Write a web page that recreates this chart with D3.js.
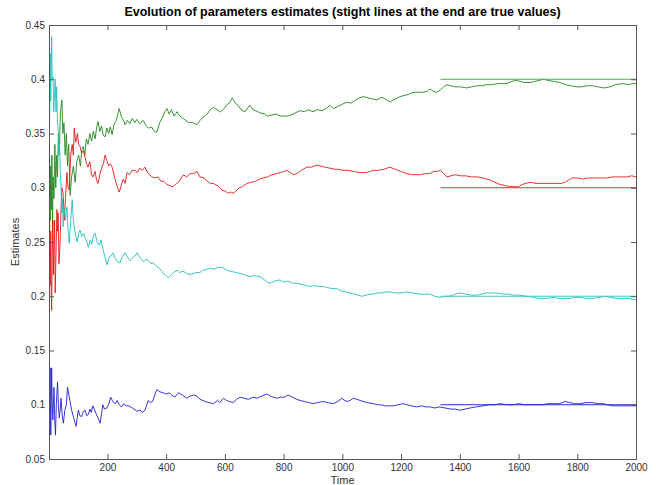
<!DOCTYPE html>
<html>
<head>
<meta charset="utf-8">
<script src="https://cdn.jsdelivr.net/npm/d3@7"></script>
<style>
  body { margin: 0; background: #fff; }
  svg { font-family: "Liberation Sans", Arial, sans-serif; }
</style>
</head>
<body>
<div id="chart"></div>
<script>
// Estimates: [time, value]
const green = [[1,0.30],[3,0.33],[5,0.27],[7,0.32],[9,0.28],[11,0.33],[13,0.26],[15,0.31],[18,0.29],[21,0.34],[24,0.30],[27,0.33],[30,0.31],[33,0.35],[36,0.33],[40,0.37],[45,0.381],[48,0.35],[52,0.36],[56,0.33],[60,0.35],[64,0.32],[68,0.34],[73,0.293],[78,0.31],[84,0.32],[90,0.305],[96,0.325],[102,0.33],[108,0.32],[113,0.335],[118,0.338],[123,0.33],[128,0.345],[134,0.34],[140,0.35],[146,0.343],[152,0.352],[158,0.345],[163,0.355],[168,0.361],[174,0.352],[180,0.357],[186,0.348],[192,0.347],[198,0.355],[204,0.35],[210,0.356],[216,0.349],[222,0.358],[230,0.362],[240,0.373],[248,0.365],[255,0.362],[260,0.358],[268,0.362],[276,0.359],[285,0.364],[293,0.36],[300,0.363],[310,0.359],[322,0.362],[332,0.357],[340,0.355],[350,0.356],[360,0.352],[368,0.351],[378,0.36],[388,0.365],[395,0.37],[403,0.373],[410,0.368],[418,0.372],[427,0.366],[437,0.37],[447,0.366],[457,0.364],[467,0.362],[477,0.36],[490,0.36],[505,0.358],[515,0.362],[526,0.365],[540,0.368],[550,0.372],[560,0.374],[573,0.372],[585,0.37],[594,0.372],[605,0.376],[618,0.379],[625,0.383],[635,0.378],[645,0.376],[655,0.372],[669,0.37],[678,0.374],[686,0.376],[695,0.372],[705,0.371],[720,0.369],[735,0.368],[745,0.366],[760,0.367],[775,0.368],[790,0.366],[811,0.366],[825,0.367],[840,0.369],[856,0.371],[870,0.37],[885,0.372],[900,0.37],[914,0.372],[930,0.371],[945,0.373],[958,0.376],[969,0.373],[985,0.375],[1000,0.377],[1016,0.379],[1030,0.378],[1045,0.381],[1060,0.383],[1071,0.384],[1085,0.383],[1100,0.382],[1118,0.381],[1130,0.383],[1139,0.383],[1150,0.381],[1162,0.379],[1175,0.381],[1196,0.384],[1210,0.385],[1225,0.386],[1241,0.388],[1260,0.388],[1275,0.388],[1290,0.389],[1299,0.391],[1309,0.389],[1320,0.388],[1333,0.390],[1345,0.393],[1356,0.395],[1370,0.394],[1385,0.393],[1400,0.393],[1424,0.392],[1440,0.393],[1460,0.394],[1475,0.394],[1492,0.395],[1510,0.395],[1530,0.396],[1545,0.396],[1560,0.396],[1577,0.398],[1590,0.399],[1605,0.398],[1620,0.397],[1639,0.397],[1655,0.398],[1670,0.399],[1684,0.400],[1700,0.399],[1720,0.398],[1741,0.397],[1760,0.395],[1780,0.394],[1799,0.393],[1815,0.393],[1835,0.394],[1854,0.394],[1870,0.393],[1890,0.392],[1912,0.393],[1930,0.395],[1956,0.396],[1975,0.395],[1990,0.396],[2000,0.396]];

const red = [[1,0.25],[3,0.28],[5,0.21],[7,0.26],[9,0.2],[10,0.187],[12,0.24],[14,0.27],[16,0.22],[18,0.25],[20,0.27],[22,0.203],[25,0.24],[28,0.28],[30,0.26],[32,0.277],[35,0.23],[39,0.252],[42,0.28],[45,0.30],[49,0.295],[53,0.27],[57,0.29],[62,0.314],[66,0.30],[70,0.298],[75,0.33],[80,0.34],[84,0.33],[87,0.355],[92,0.342],[98,0.35],[102,0.34],[107,0.338],[112,0.332],[118,0.334],[124,0.328],[129,0.322],[134,0.319],[140,0.324],[146,0.312],[151,0.31],[158,0.315],[163,0.307],[168,0.304],[174,0.312],[180,0.318],[186,0.322],[192,0.33],[198,0.325],[204,0.32],[210,0.322],[216,0.319],[224,0.31],[232,0.302],[240,0.296],[247,0.302],[254,0.308],[260,0.304],[267,0.314],[275,0.312],[284,0.316],[294,0.316],[302,0.314],[310,0.318],[318,0.316],[328,0.319],[336,0.314],[344,0.312],[352,0.31],[362,0.309],[372,0.31],[382,0.306],[392,0.306],[402,0.303],[412,0.302],[424,0.301],[435,0.304],[445,0.306],[458,0.312],[470,0.31],[482,0.313],[493,0.313],[505,0.315],[515,0.31],[530,0.309],[540,0.306],[550,0.304],[560,0.304],[575,0.302],[590,0.298],[600,0.297],[611,0.295],[620,0.296],[630,0.295],[641,0.298],[650,0.3],[660,0.301],[675,0.304],[690,0.305],[705,0.306],[718,0.308],[730,0.309],[745,0.31],[760,0.312],[777,0.313],[790,0.314],[800,0.315],[811,0.316],[822,0.314],[833,0.312],[845,0.313],[860,0.316],[879,0.319],[895,0.319],[914,0.321],[925,0.32],[940,0.319],[958,0.318],[975,0.317],[990,0.317],[1003,0.316],[1020,0.316],[1040,0.315],[1060,0.314],[1080,0.314],[1095,0.315],[1105,0.316],[1120,0.316],[1140,0.317],[1162,0.319],[1180,0.317],[1200,0.315],[1220,0.313],[1240,0.312],[1264,0.312],[1280,0.313],[1299,0.313],[1310,0.315],[1321,0.315],[1335,0.316],[1345,0.313],[1356,0.310],[1370,0.311],[1385,0.312],[1401,0.311],[1420,0.311],[1440,0.31],[1460,0.31],[1478,0.309],[1492,0.308],[1505,0.307],[1520,0.305],[1537,0.303],[1555,0.302],[1570,0.301],[1588,0.301],[1600,0.301],[1612,0.303],[1625,0.304],[1639,0.305],[1660,0.304],[1680,0.304],[1707,0.304],[1730,0.304],[1745,0.304],[1758,0.305],[1770,0.307],[1782,0.309],[1800,0.309],[1820,0.308],[1835,0.309],[1854,0.309],[1875,0.309],[1900,0.309],[1920,0.31],[1946,0.31],[1970,0.31],[1985,0.311],[2000,0.31]];

const cyan = [[1,0.40],[3,0.36],[5,0.424],[7,0.38],[10,0.439],[12,0.40],[15,0.402],[17,0.37],[19,0.381],[22,0.40],[25,0.37],[27,0.393],[30,0.36],[32,0.356],[35,0.33],[37,0.34],[39,0.319],[42,0.30],[45,0.277],[47,0.29],[49,0.264],[53,0.28],[57,0.27],[62,0.282],[66,0.26],[70,0.249],[75,0.27],[80,0.289],[84,0.270],[88,0.262],[93,0.255],[97,0.25],[102,0.258],[107,0.261],[112,0.255],[118,0.258],[124,0.254],[130,0.25],[135,0.245],[141,0.252],[147,0.248],[152,0.256],[158,0.258],[165,0.25],[172,0.247],[178,0.252],[185,0.243],[192,0.236],[199,0.229],[205,0.235],[212,0.238],[219,0.240],[226,0.235],[233,0.232],[243,0.231],[250,0.236],[255,0.238],[260,0.240],[268,0.236],[277,0.233],[285,0.235],[293,0.237],[301,0.240],[310,0.236],[322,0.232],[332,0.234],[340,0.233],[348,0.23],[356,0.231],[366,0.228],[376,0.226],[385,0.223],[390,0.221],[400,0.219],[407,0.217],[415,0.219],[425,0.222],[437,0.224],[447,0.222],[458,0.223],[470,0.221],[481,0.22],[493,0.221],[505,0.222],[515,0.222],[526,0.224],[540,0.225],[549,0.226],[560,0.225],[573,0.226],[584,0.227],[595,0.226],[607,0.224],[620,0.223],[635,0.222],[652,0.221],[665,0.22],[675,0.219],[686,0.218],[700,0.219],[720,0.218],[735,0.215],[745,0.213],[754,0.212],[770,0.214],[788,0.215],[800,0.213],[815,0.214],[830,0.212],[845,0.212],[860,0.211],[875,0.21],[890,0.209],[905,0.21],[920,0.209],[935,0.209],[950,0.208],[965,0.207],[981,0.207],[995,0.205],[1010,0.204],[1026,0.203],[1040,0.202],[1055,0.201],[1067,0.200],[1080,0.201],[1095,0.202],[1105,0.202],[1118,0.203],[1130,0.203],[1146,0.204],[1162,0.204],[1180,0.203],[1200,0.203],[1220,0.204],[1240,0.203],[1264,0.202],[1280,0.202],[1299,0.202],[1315,0.2],[1333,0.199],[1350,0.2],[1365,0.2],[1385,0.202],[1401,0.203],[1420,0.202],[1440,0.201],[1458,0.201],[1475,0.202],[1490,0.203],[1510,0.203],[1526,0.203],[1545,0.202],[1565,0.202],[1585,0.201],[1605,0.201],[1625,0.2],[1650,0.199],[1670,0.198],[1697,0.198],[1720,0.199],[1735,0.198],[1752,0.198],[1775,0.198],[1795,0.199],[1810,0.199],[1830,0.198],[1854,0.198],[1875,0.199],[1895,0.2],[1912,0.199],[1935,0.198],[1956,0.198],[1975,0.198],[1990,0.197],[2000,0.197]];

const blue = [[1,0.10],[3,0.12],[5,0.134],[7,0.072],[10,0.134],[12,0.10],[14,0.086],[16,0.10],[18,0.116],[20,0.09],[23,0.072],[26,0.10],[30,0.121],[33,0.10],[36,0.088],[39,0.095],[42,0.106],[46,0.09],[50,0.083],[55,0.095],[60,0.10],[64,0.116],[68,0.11],[72,0.104],[78,0.095],[85,0.088],[93,0.080],[97,0.088],[101,0.095],[106,0.09],[112,0.089],[118,0.094],[124,0.095],[129,0.09],[135,0.091],[140,0.096],[145,0.093],[150,0.099],[155,0.096],[161,0.092],[168,0.088],[175,0.083],[180,0.092],[184,0.100],[190,0.096],[198,0.097],[204,0.10],[211,0.107],[218,0.103],[226,0.101],[233,0.104],[240,0.1],[249,0.098],[256,0.101],[263,0.099],[271,0.099],[280,0.098],[290,0.096],[300,0.094],[310,0.095],[320,0.093],[328,0.095],[334,0.1],[339,0.104],[346,0.102],[354,0.103],[360,0.108],[368,0.114],[378,0.112],[390,0.111],[400,0.110],[410,0.111],[419,0.109],[430,0.107],[442,0.111],[455,0.109],[470,0.106],[482,0.108],[493,0.109],[505,0.108],[515,0.105],[533,0.103],[545,0.102],[561,0.101],[575,0.104],[583,0.102],[595,0.106],[605,0.104],[615,0.103],[628,0.102],[640,0.105],[652,0.107],[665,0.106],[680,0.105],[697,0.107],[710,0.106],[725,0.108],[743,0.110],[755,0.108],[765,0.107],[777,0.106],[790,0.107],[803,0.107],[815,0.109],[830,0.107],[845,0.105],[856,0.104],[870,0.103],[885,0.102],[901,0.101],[915,0.102],[935,0.103],[950,0.102],[969,0.101],[985,0.103],[998,0.106],[1008,0.104],[1016,0.103],[1027,0.104],[1037,0.106],[1050,0.105],[1060,0.104],[1071,0.103],[1085,0.102],[1105,0.101],[1120,0.1],[1130,0.1],[1146,0.099],[1160,0.099],[1173,0.099],[1190,0.1],[1207,0.101],[1220,0.1],[1235,0.099],[1253,0.098],[1270,0.099],[1285,0.098],[1299,0.098],[1315,0.097],[1330,0.098],[1350,0.097],[1370,0.096],[1385,0.096],[1401,0.095],[1418,0.096],[1435,0.097],[1455,0.098],[1480,0.099],[1500,0.1],[1520,0.1],[1537,0.101],[1560,0.1],[1582,0.100],[1600,0.101],[1620,0.1],[1650,0.1],[1680,0.1],[1700,0.101],[1718,0.101],[1740,0.101],[1758,0.103],[1775,0.102],[1790,0.101],[1810,0.101],[1830,0.102],[1850,0.102],[1870,0.101],[1890,0.101],[1901,0.100],[1920,0.099],[1946,0.099],[1970,0.099],[1985,0.099],[2000,0.099]];

// true values, drawn as straight lines over the last third
const trueValues = [0.4, 0.3, 0.2, 0.1];
const trueStart = 1334;
const seriesColors = ["#1f8a1f", "#e31a1a", "#22c0c0", "#2020d0"];
const trueColors = ["#4caf4c", "#e03030", "#40c8c8", "#2828c8"];

const xTicks = [200, 400, 600, 800, 1000, 1200, 1400, 1600, 1800, 2000];
const yTicks = [0.05, 0.1, 0.15, 0.2, 0.25, 0.3, 0.35, 0.4, 0.45];

const margin = { top: 25, right: 20, bottom: 26, left: 49 },
    width = 656 - margin.left - margin.right,
    height = 485 - margin.top - margin.bottom;

const svg = d3.select("#chart")
    .append("svg")
    .attr("width", 656)
    .attr("height", 485);

const g = svg.append("g")
    .attr("transform", `translate(${margin.left}, ${margin.top})`);

const x = d3.scaleLinear().domain([1, 2000]).range([0, width]);
const y = d3.scaleLinear().domain([0.05, 0.45]).range([height, 0]);

// clip lines to the axes box
g.append("clipPath").attr("id", "clip")
    .append("rect").attr("width", width).attr("height", height);

const line = d3.line()
    .x(d => x(d[0]))
    .y(d => y(d[1]));

const plot = g.append("g").attr("clip-path", "url(#clip)");

// draw estimate series
[green, red, cyan, blue].forEach((s, i) => {
    plot.append("path")
        .datum(s)
        .attr("fill", "none")
        .attr("stroke", seriesColors[i])
        .attr("stroke-width", 0.9)
        .attr("stroke-linejoin", "round")
        .attr("d", line);
});

// true value lines
trueValues.forEach((v, i) => {
    plot.append("path")
        .datum([[trueStart, v], [2000, v]])
        .attr("fill", "none")
        .attr("stroke", trueColors[i])
        .attr("stroke-width", 1)
        .attr("d", line);
});

// axes, matlab style: box with inward ticks on all sides
const axisColor = "#555";
const tickLen = 5;

g.append("g")
    .attr("transform", `translate(0, ${height})`)
    .call(d3.axisBottom(x).tickValues(xTicks).tickSizeInner(-tickLen).tickSizeOuter(0).tickPadding(5)
        .tickFormat(d3.format("d")))
    .call(a => a.select(".domain").attr("stroke", axisColor))
    .call(a => a.selectAll(".tick line").attr("stroke", axisColor))
    .call(a => a.selectAll("text").attr("fill", "#333").style("font-size", "10px"));

g.append("g")
    .call(d3.axisTop(x).tickValues(xTicks).tickSizeInner(-tickLen).tickSizeOuter(0).tickFormat(""))
    .call(a => a.select(".domain").attr("stroke", axisColor))
    .call(a => a.selectAll(".tick line").attr("stroke", axisColor));

g.append("g")
    .call(d3.axisLeft(y).tickValues(yTicks).tickSizeInner(-tickLen).tickSizeOuter(0).tickPadding(4)
        .tickFormat(d => String(+d.toFixed(2))))
    .call(a => a.select(".domain").attr("stroke", axisColor))
    .call(a => a.selectAll(".tick line").attr("stroke", axisColor))
    .call(a => a.selectAll("text").attr("fill", "#333").style("font-size", "10px"));

g.append("g")
    .attr("transform", `translate(${width}, 0)`)
    .call(d3.axisRight(y).tickValues(yTicks).tickSizeInner(-tickLen).tickSizeOuter(0).tickFormat(""))
    .call(a => a.select(".domain").attr("stroke", axisColor))
    .call(a => a.selectAll(".tick line").attr("stroke", axisColor));

// titles
svg.append("text")
    .attr("x", margin.left + width / 2)
    .attr("y", 16)
    .attr("text-anchor", "middle")
    .style("font-size", "12.5px")
    .style("font-weight", "bold")
    .text("Evolution of parameters estimates (stight lines at the end are true values)");

svg.append("text")
    .attr("x", margin.left + width / 2)
    .attr("y", 484)
    .attr("text-anchor", "middle")
    .style("font-size", "11px")
    .attr("fill", "#333")
    .text("Time");

svg.append("text")
    .attr("transform", `translate(19, ${margin.top + height / 2}) rotate(-90)`)
    .attr("text-anchor", "middle")
    .style("font-size", "11px")
    .attr("fill", "#333")
    .text("Estimates");
</script>
</body>
</html>
